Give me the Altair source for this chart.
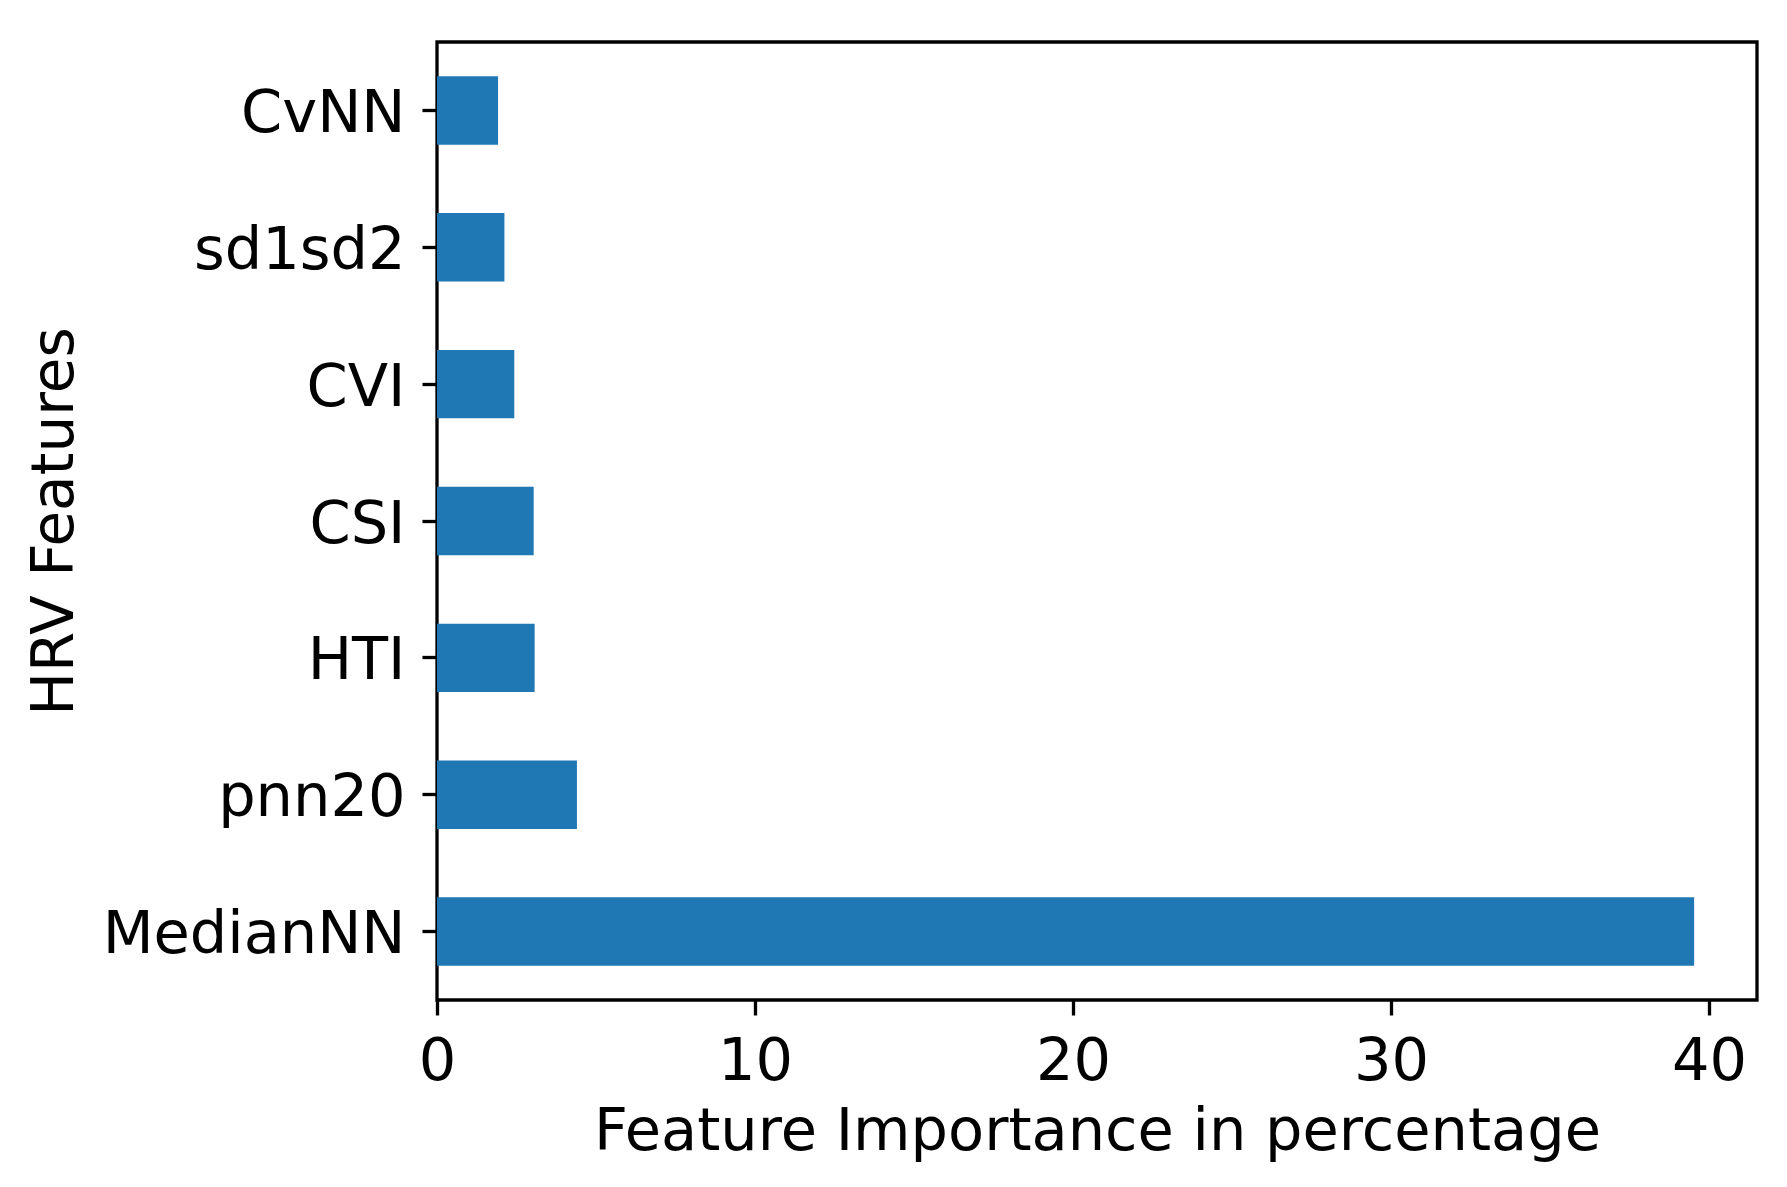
import altair as alt
import pandas as pd

features = ["CvNN", "sd1sd2", "CVI", "CSI", "HTI", "pnn20", "MedianNN"]
importance = [1.92, 2.12, 2.43, 3.04, 3.07, 4.40, 39.53]

df = pd.DataFrame({"feature": features, "importance": importance})

FONT = "DejaVu Sans"
W, H = 1320, 958

chart = alt.Chart(df).mark_bar(color="#1f77b4").encode(
    x=alt.X(
        "importance:Q",
        scale=alt.Scale(domain=[0, 39.53 * 1.05], nice=False, zero=True),
        axis=alt.Axis(
            values=[0, 10, 20, 30, 40],
            format="d",
            title="Feature Importance in percentage",
            grid=False,
            domain=False,
            tickSize=15,
            tickWidth=3.3,
            tickColor="black",
            labelFont=FONT,
            labelFontSize=59,
            labelColor="black",
            labelPadding=17,
            labelFlush=False,
            labelLimit=0,
            titleFont=FONT,
            titleFontSize=59,
            titleFontWeight="normal",
            titleColor="black",
            titleX=W / 2,
            titleY=149,
            titleBaseline="alphabetic",
            titleAlign="center",
        ),
    ),
    y=alt.Y(
        "feature:N",
        sort=features,
        scale=alt.Scale(paddingInner=0.5, paddingOuter=0.25),
        axis=alt.Axis(
            title="HRV Features",
            grid=False,
            domain=False,
            tickSize=15,
            tickWidth=3.3,
            tickColor="black",
            labelFont=FONT,
            labelFontSize=59,
            labelColor="black",
            labelPadding=17,
            labelLimit=0,
            labelBaseline="alphabetic",
            labelOffset=21.5,
            titleFont=FONT,
            titleFontSize=58,
            titleFontWeight="normal",
            titleColor="black",
            titleX=-365,
            titleY=H / 2,
            titleAngle=-90,
            titleBaseline="alphabetic",
            titleAlign="center",
        ),
    ),
).properties(
    width=W,
    height=H,
    autosize=alt.AutoSizeParams(type="none"),
    padding={"left": 429, "top": 34, "right": 22, "bottom": 180},
).configure(
    background="white",
    view=alt.ViewConfig(stroke="black", strokeWidth=3.3),
)

chart.save("out.html", embed_options={"renderer": "svg", "actions": False})
